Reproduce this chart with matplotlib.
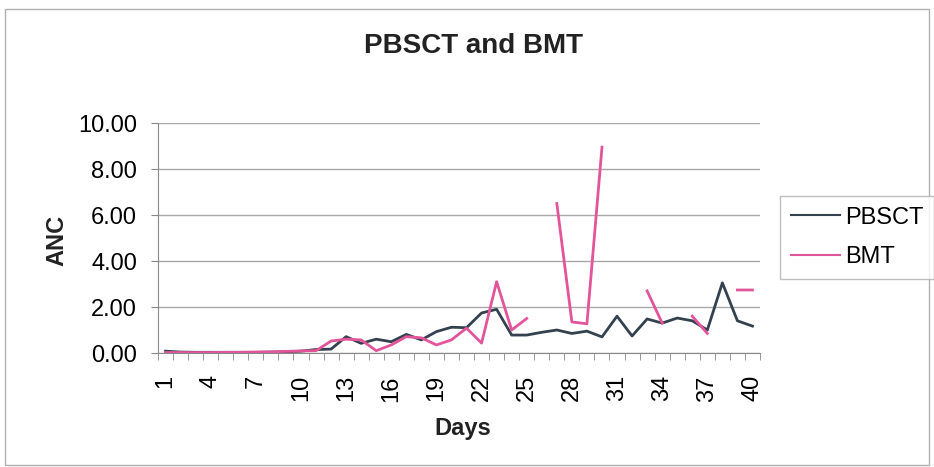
import numpy as np
import matplotlib.pyplot as plt
from matplotlib.patches import Rectangle

plt.rcParams['font.family'] = ['Liberation Sans', 'DejaVu Sans']

# Data
days = np.arange(1, 41)
pbsct = [0.08, 0.04, 0.03, 0.03, 0.03, 0.03, 0.03, 0.04, 0.05, 0.08,
         0.15, 0.17, 0.71, 0.42, 0.60, 0.49, 0.81, 0.57, 0.93, 1.12,
         1.10, 1.74, 1.90, 0.78, 0.78, 0.90, 1.00, 0.85, 0.95, 0.70,
         1.60, 0.74, 1.48, 1.30, 1.52, 1.40, 1.00, 3.05, 1.40, 1.17]
bmt = [0.02, 0.02, 0.02, 0.02, 0.03, 0.03, 0.04, 0.05, 0.07, 0.09,
       0.10, 0.52, 0.60, 0.57, 0.10, 0.35, 0.71, 0.66, 0.35, 0.57,
       1.08, 0.43, 3.10, 1.00, 1.50, np.nan, 6.50, 1.35, 1.27, 8.95,
       np.nan, np.nan, 2.70, 1.30, np.nan, 1.60, 0.85, np.nan, 2.74, 2.74]
xlabels = [str(d) for d in range(1, 41, 3)]

W, H = 934, 467
fig = plt.figure(figsize=(W / 100, H / 100), dpi=100)
ax = fig.add_axes([158 / W, 1 - 353 / H, 602 / W, 230 / H])

# chart area border
fig.patches.append(Rectangle((0.005, 0.005), 0.99, 0.975, transform=fig.transFigure,
                             fill=False, edgecolor='#b0b0b0', linewidth=1.0))

ax.plot(days, pbsct, color='#34424f', linewidth=2, label='PBSCT')
ax.plot(days, bmt, color='#e3559a', linewidth=2, label='BMT')

ax.set_xlim(0.5, 40.5)
ax.set_ylim(0, 10)
ax.set_yticks(np.arange(0, 10.1, 2))
ax.set_yticklabels([f'{v:.2f}' for v in np.arange(0, 10.1, 2)], fontsize=17)
ax.yaxis.grid(True, color='#a8a8a8', linewidth=1)
ax.set_axisbelow(True)

ax.set_xticks(range(1, 41, 3))
ax.set_xticklabels(xlabels, rotation=90, fontsize=17)
ax.set_xticks(np.arange(0.5, 41, 1), minor=True)
ax.tick_params(axis='x', which='major', length=0, pad=16)
ax.tick_params(axis='x', which='minor', length=5, color='#888888')
ax.tick_params(axis='y', length=5, color='#888888', pad=10)

for s in ['top', 'right']:
    ax.spines[s].set_visible(False)
ax.spines['left'].set_color('#888888')
ax.spines['bottom'].set_color('#888888')

fig.text(473 / W, 1 - 46 / H, 'PBSCT and BMT', fontsize=20, fontweight='bold',
         ha='center', va='center', color='#222222')
fig.text(463 / W, 1 - 428 / H, 'Days', fontsize=17, fontweight='bold',
         ha='center', va='center', color='#222222')
fig.text(57 / W, 1 - 240 / H, 'ANC', fontsize=17, fontweight='bold', rotation=90,
         ha='center', va='center', color='#222222')

leg = fig.legend(loc='upper left', bbox_to_anchor=(780 / W, 1 - 196 / H), fontsize=17,
                 frameon=True, fancybox=False, edgecolor='#b0b0b0',
                 handlelength=2.1, borderpad=0.45, labelspacing=0.75, handletextpad=0.2,
                 borderaxespad=0)
for line in leg.get_lines():
    line.set_linewidth(1.5)

fig.savefig('out.png', dpi=100)
